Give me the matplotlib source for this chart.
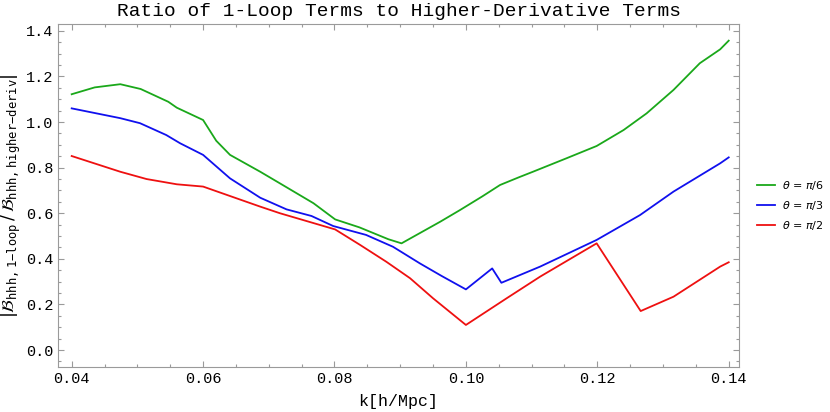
import numpy as np
import matplotlib.pyplot as plt
from matplotlib.ticker import MultipleLocator

k_green = [0.04, 0.0435, 0.0474, 0.0505, 0.0547, 0.056, 0.06, 0.062, 0.0641, 0.0687, 0.0717,
           0.0768, 0.0801, 0.0838, 0.0882, 0.0902, 0.0961, 0.0991, 0.1025, 0.1052, 0.108,
           0.1102, 0.1153, 0.1199, 0.124, 0.1275, 0.1316, 0.1356, 0.1387, 0.14]
v_green = [1.122, 1.152, 1.166, 1.145, 1.089, 1.063, 1.009, 0.918, 0.856, 0.782, 0.731,
           0.644, 0.573, 0.538, 0.486, 0.468, 0.563, 0.614, 0.674, 0.724, 0.757,
           0.782, 0.841, 0.895, 0.965, 1.038, 1.141, 1.258, 1.319, 1.357]

k_blue = [0.04, 0.0474, 0.0504, 0.0544, 0.0565, 0.06, 0.0641, 0.0687, 0.0727, 0.0765, 0.0798,
          0.0848, 0.0889, 0.093, 0.0963, 0.1, 0.104, 0.1054, 0.1113, 0.1199, 0.1265,
          0.1316, 0.1387, 0.14]
v_blue = [1.060, 1.017, 0.995, 0.943, 0.907, 0.856, 0.753, 0.668, 0.617, 0.588, 0.544,
          0.505, 0.453, 0.380, 0.325, 0.266, 0.358, 0.295, 0.366, 0.483, 0.592,
          0.695, 0.819, 0.845]

k_red = [0.04, 0.0474, 0.0514, 0.056, 0.06, 0.0687, 0.0717, 0.0801, 0.0839, 0.0879, 0.0915,
         0.095, 0.1, 0.1062, 0.1113, 0.1199, 0.1266, 0.1316, 0.1387, 0.14]
v_red = [0.851, 0.782, 0.750, 0.727, 0.717, 0.629, 0.600, 0.529, 0.461, 0.387, 0.315,
         0.227, 0.110, 0.227, 0.322, 0.468, 0.171, 0.234, 0.366, 0.385]

mono = "Liberation Mono"
gray = "#9a9a9a"

fig = plt.figure(figsize=(8.3, 4.12), dpi=100)
ax = fig.add_axes([0.0699, 0.110, 0.8205, 0.8317])

ax.plot(k_green, v_green, color="#1aa81a", lw=1.3, label=r"$\theta$ = $\pi$/6")
ax.plot(k_blue, v_blue, color="#1010ee", lw=1.3, label=r"$\theta$ = $\pi$/3")
ax.plot(k_red, v_red, color="#ee1010", lw=1.3, label=r"$\theta$ = $\pi$/2")

ax.set_xlim(0.03792, 0.14157)
ax.set_ylim(-0.073, 1.430)
ax.xaxis.set_major_locator(MultipleLocator(0.02))
ax.xaxis.set_minor_locator(MultipleLocator(0.005))
ax.yaxis.set_major_locator(MultipleLocator(0.2))
ax.yaxis.set_minor_locator(MultipleLocator(0.05))
ax.xaxis.set_major_formatter(plt.FuncFormatter(lambda v, p: "%.2f" % v))
ax.yaxis.set_major_formatter(plt.FuncFormatter(lambda v, p: "%.1f" % v))

ax.tick_params(which="both", direction="in", top=True, right=True, color=gray, width=0.8)
ax.tick_params(which="major", length=4, labelsize=11)
ax.tick_params(which="minor", length=2.5)
for lab in ax.get_xticklabels() + ax.get_yticklabels():
    lab.set_fontfamily(mono)
for s in ax.spines.values():
    s.set_color(gray)
    s.set_linewidth(0.8)

ax.set_title("Ratio of 1-Loop Terms to Higher-Derivative Terms", fontfamily=mono,
             fontsize=14, pad=6)
ax.set_xlabel("k[h/Mpc]", fontfamily=mono, fontsize=12, labelpad=6)
ax.set_ylabel(r"$|\mathcal{B}_{\mathtt{hhh,1{-}loop}}\,/\,\mathcal{B}_{\mathtt{hhh,higher{-}deriv}}|$",
              fontsize=12.5, labelpad=2)

ax.legend(loc="center left", bbox_to_anchor=(1.012, 0.47), frameon=False, fontsize=8,
          handlelength=1.6, handletextpad=0.6, labelspacing=0.65)

fig.savefig("out.png")
